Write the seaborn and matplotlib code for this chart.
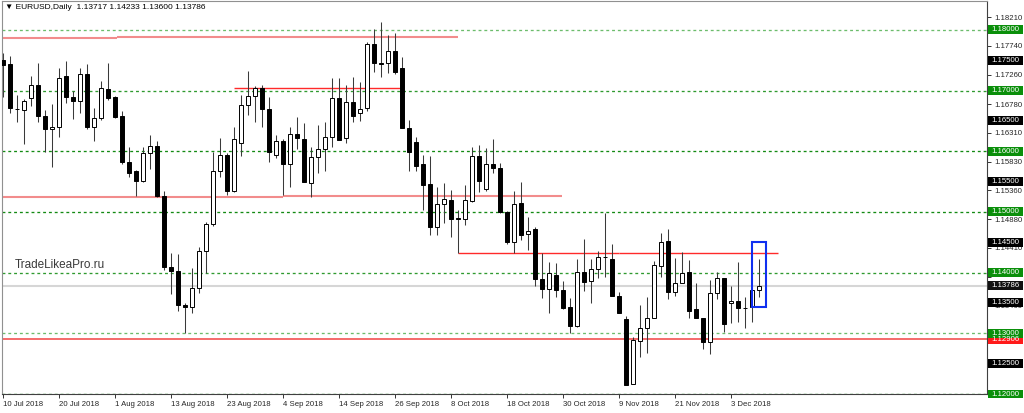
import matplotlib
matplotlib.use("Agg")
import numpy as np
import pandas as pd
import seaborn as sns
import matplotlib.pyplot as plt
from matplotlib.patches import Rectangle
from matplotlib.transforms import blended_transform_factory

# EURUSD daily candles, 10 Jul 2018 .. 7 Dec 2018
open_ = [1.1751, 1.1744, 1.1670, 1.1668, 1.1688, 1.1709, 1.1658, 1.1637, 1.1640, 1.1724,
         1.1690, 1.1683, 1.1727, 1.1640, 1.1655, 1.1703, 1.1690, 1.1658, 1.1582, 1.1568,
         1.1551, 1.1597, 1.1609, 1.1527, 1.1410, 1.1403, 1.1346, 1.1344, 1.1375, 1.1436,
         1.1480, 1.1568, 1.1594, 1.1535, 1.1614, 1.1676, 1.1691, 1.1704, 1.1670, 1.1594,
         1.1617, 1.1579, 1.1629, 1.1620, 1.1548, 1.1591, 1.1604, 1.1624, 1.1688, 1.1622,
         1.1681, 1.1663, 1.1671, 1.1777, 1.1746, 1.1746, 1.1765, 1.1737, 1.1638, 1.1615,
         1.1579, 1.1546, 1.1475, 1.1513, 1.1520, 1.1490, 1.1489, 1.1518, 1.1592, 1.1538,
         1.1579, 1.1573, 1.1500, 1.1451, 1.1515, 1.1464, 1.1472, 1.1390, 1.1373, 1.1396,
         1.1372, 1.1344, 1.1312, 1.1401, 1.1386, 1.1406, 1.1426, 1.1423, 1.1362, 1.1324,
         1.1217, 1.1287, 1.1309, 1.1325, 1.1411, 1.1452, 1.1368, 1.1383, 1.1401, 1.1340,
         1.1325, 1.1286, 1.1367, 1.1391, 1.1350, 1.1353, 1.1342, 1.1344, 1.13717]
high = [1.1762, 1.1757, 1.1693, 1.1686, 1.1724, 1.1746, 1.1668, 1.1678, 1.1737, 1.1749,
        1.1700, 1.1737, 1.1744, 1.1671, 1.1716, 1.1746, 1.1692, 1.1667, 1.1607, 1.1570,
        1.1607, 1.1627, 1.1617, 1.1535, 1.1433, 1.1430, 1.1350, 1.1408, 1.1442, 1.1484,
        1.1599, 1.1622, 1.1597, 1.1640, 1.1693, 1.1732, 1.1708, 1.1709, 1.1690, 1.1627,
        1.1620, 1.1640, 1.1657, 1.1647, 1.1607, 1.1643, 1.1648, 1.1721, 1.1721, 1.1709,
        1.1723, 1.1714, 1.1780, 1.1802, 1.1813, 1.1792, 1.1795, 1.1756, 1.1652, 1.1624,
        1.1594, 1.1592, 1.1541, 1.1548, 1.1536, 1.1503, 1.1545, 1.1607, 1.1610, 1.1606,
        1.1620, 1.1581, 1.1501, 1.1535, 1.1550, 1.1492, 1.1475, 1.1432, 1.1418, 1.1416,
        1.1386, 1.1358, 1.1423, 1.1456, 1.1423, 1.1436, 1.1498, 1.1447, 1.1368, 1.1329,
        1.1294, 1.1347, 1.1360, 1.1419, 1.1465, 1.1472, 1.1424, 1.1434, 1.1421, 1.1383,
        1.1325, 1.1388, 1.1401, 1.1392, 1.1378, 1.1418, 1.1360, 1.1372, 1.14233]
low = [1.1690, 1.1663, 1.1648, 1.1612, 1.1675, 1.1648, 1.1599, 1.1574, 1.1624, 1.1680,
       1.1653, 1.1663, 1.1637, 1.1617, 1.1652, 1.1685, 1.1655, 1.1579, 1.1558, 1.1526,
       1.1550, 1.1571, 1.1525, 1.1405, 1.1365, 1.1336, 1.1301, 1.1334, 1.1367, 1.1400,
       1.1477, 1.1558, 1.1528, 1.1533, 1.1592, 1.1660, 1.1648, 1.1640, 1.1582, 1.1589,
       1.1528, 1.1541, 1.1604, 1.1550, 1.1525, 1.1564, 1.1568, 1.1607, 1.1619, 1.1614,
       1.1648, 1.1650, 1.1667, 1.1731, 1.1723, 1.1729, 1.1727, 1.1638, 1.1568, 1.1568,
       1.1503, 1.1462, 1.1462, 1.1482, 1.1459, 1.1432, 1.1479, 1.1517, 1.1533, 1.1535,
       1.1564, 1.1498, 1.1447, 1.1432, 1.1454, 1.1437, 1.1378, 1.1358, 1.1334, 1.1360,
       1.1340, 1.1301, 1.1310, 1.1370, 1.1350, 1.1391, 1.1393, 1.1362, 1.1334, 1.1215,
       1.1216, 1.1261, 1.1268, 1.1325, 1.1393, 1.1357, 1.1362, 1.1383, 1.1325, 1.1325,
       1.1274, 1.1266, 1.1357, 1.1302, 1.1317, 1.1319, 1.1309, 1.1319, 1.13600]
close = [1.1742, 1.1671, 1.1669, 1.1683, 1.1709, 1.1658, 1.1637, 1.1640, 1.1721, 1.1690,
         1.1683, 1.1727, 1.1640, 1.1655, 1.1704, 1.1688, 1.1657, 1.1582, 1.1564, 1.1551,
         1.1597, 1.1609, 1.1527, 1.1410, 1.1403, 1.1346, 1.1343, 1.1375, 1.1436, 1.1480,
         1.1568, 1.1594, 1.1535, 1.1620, 1.1676, 1.1691, 1.1704, 1.1670, 1.1599, 1.1617,
         1.1579, 1.1629, 1.1622, 1.1550, 1.1591, 1.1604, 1.1624, 1.1688, 1.1619, 1.1681,
         1.1658, 1.1670, 1.1777, 1.1746, 1.1744, 1.1765, 1.1731, 1.1638, 1.1599, 1.1576,
         1.1545, 1.1475, 1.1513, 1.1521, 1.1489, 1.1489, 1.1520, 1.1592, 1.1551, 1.1579,
         1.1573, 1.1500, 1.1451, 1.1513, 1.1462, 1.1469, 1.1390, 1.1373, 1.1400, 1.1372,
         1.1342, 1.1312, 1.1401, 1.1385, 1.1406, 1.1426, 1.1425, 1.1362, 1.1334, 1.1215,
         1.1289, 1.1309, 1.1325, 1.1413, 1.1451, 1.1368, 1.1383, 1.1400, 1.1337, 1.1325,
         1.1286, 1.1367, 1.1391, 1.1315, 1.1353, 1.1342, 1.1341, 1.1372, 1.13786]

tick_pos = [0, 8, 16, 24, 32, 40, 48, 56, 64, 72, 80, 88, 96, 104]
tick_labels = ["10 Jul 2018", "20 Jul 2018", "1 Aug 2018", "13 Aug 2018", "23 Aug 2018",
               "4 Sep 2018", "14 Sep 2018", "26 Sep 2018", "8 Oct 2018", "18 Oct 2018",
               "30 Oct 2018", "9 Nov 2018", "21 Nov 2018", "3 Dec 2018"]
price_ticks = [1.18210, 1.17740, 1.17260, 1.16780, 1.16310, 1.15830, 1.15360, 1.14880,
               1.14410, 1.13930, 1.13460, 1.12980, 1.12510, 1.12030]
# scale values that sit fully behind a coloured price box keep only their tick mark
hidden_ticks = [1.13930, 1.12980, 1.12510, 1.12030]

round_levels = [1.18, 1.17, 1.16, 1.15, 1.14, 1.13, 1.12]
round_colors = ["#6cbc6c", "#2f9a2f", "#138a13", "#138a13", "#2f9a2f", "#6cbc6c", "#138a13"]
half_levels = [1.175, 1.165, 1.155, 1.145, 1.135, 1.125]
last_price = 1.13786
support_price = 1.12906

# hand-drawn levels: (from bar, to bar, price)
pink_levels = [(0, 16.3, 1.1786), (16.3, 65.0, 1.1788), (0, 40.0, 1.1525), (40.0, 79.9, 1.1527)]
red_levels = [(33.0, 57.0, 1.1704), (65.0, 88.0, 1.1433), (88.0, 110.7, 1.1432)]
box_bars = (107.0, 109.0)
box_prices = (1.1344, 1.1451)

sns.set_theme(style="white")
plt.rcParams["font.family"] = ["Liberation Sans", "DejaVu Sans"]

df = pd.DataFrame({"open": open_, "high": high, "low": low, "close": close})
df["x"] = np.arange(len(df))
df["up"] = df["close"] >= df["open"]

fig = plt.figure(figsize=(10.24, 4.13), dpi=100)
ax = fig.add_axes([2 / 1024, 19 / 413, 985 / 1024, 393 / 413])
ax.set_facecolor("white")

for lvl, col in zip(round_levels, round_colors):
    ax.axhline(lvl, color=col, lw=0.95, ls=(0, (2.2, 2.2)), zorder=1)
ax.axhline(last_price, color="#d6d6d6", lw=1.5, zorder=1)
ax.axhline(support_price, color="#f46a6a", lw=1.4, zorder=1.5)
for x0, x1, p in pink_levels:
    ax.hlines(p, x0, x1, color="#f28c8c", lw=1.5, zorder=1.5)
for x0, x1, p in red_levels:
    ax.hlines(p, x0, x1, color="#ff2a2a", lw=1.0, zorder=1.5)

# wicks and bodies
ax.vlines(df["x"], df["low"], df["high"], color="#3a3a3a", lw=0.75, zorder=2)
body_lo = df[["open", "close"]].min(axis=1)
body_h = (df["close"] - df["open"]).abs().clip(lower=0.00006)
ax.bar(df["x"], body_h, bottom=body_lo, width=0.66,
       color=np.where(df["up"], "white", "black"), edgecolor="black", linewidth=0.7, zorder=3)

ax.add_patch(Rectangle((box_bars[0], box_prices[0]), box_bars[1] - box_bars[0],
                       box_prices[1] - box_prices[0], fill=False, edgecolor="#1030f0", lw=1.5, zorder=4))

ax.set_xlim(-0.15, 140.57)
ax.set_ylim(1.12, 1.18478)

ax.set_xticks(tick_pos)
ax.set_xticklabels(tick_labels, ha="left")
ax.yaxis.tick_right()
ax.set_yticks(price_ticks)
ax.set_yticklabels(["" if v in hidden_ticks else f"{v:.5f}" for v in price_ticks])
ax.tick_params(axis="x", bottom=True, length=3, width=0.7, color="#333333", labelsize=5.6, pad=2)
ax.tick_params(axis="y", right=True, left=False, length=3, width=0.7, color="#333333",
               labelsize=5.6, pad=2)
ax.grid(False)
for side in ["left", "top"]:
    ax.spines[side].set_color("#909090")
    ax.spines[side].set_linewidth(0.8)
for side in ["right", "bottom"]:
    ax.spines[side].set_color("#404040")
    ax.spines[side].set_linewidth(0.8)

# price labels on the right scale
trans = blended_transform_factory(fig.transFigure, ax.transData)
box_h = 9 / 6067


def price_label(price, face):
    ax.add_patch(Rectangle((988 / 1024, price - box_h / 2), 35 / 1024, box_h, transform=trans,
                           facecolor=face, edgecolor="none", clip_on=False, zorder=6))
    ax.text(1005.5 / 1024, price, f"{price:.5f}", transform=trans, color="white",
            fontsize=5.6, ha="center", va="center", clip_on=False, zorder=7)


price_label(support_price, "#ff1a1a")
for lvl in half_levels:
    price_label(lvl, "black")
price_label(last_price, "#111111")
for lvl in round_levels:
    price_label(lvl, "#0a8f0a")

ax.text(0.003, 0.992, "\u25bc EURUSD,Daily  1.13717 1.14233 1.13600 1.13786", transform=ax.transAxes,
        fontsize=6, ha="left", va="top", color="black")
ax.text(0.013, 0.328, "TradeLikeaPro.ru", transform=ax.transAxes, fontsize=8.5,
        ha="left", va="center", color="#3a3a3a")

fig.savefig("out.png", dpi=100, facecolor="white")
